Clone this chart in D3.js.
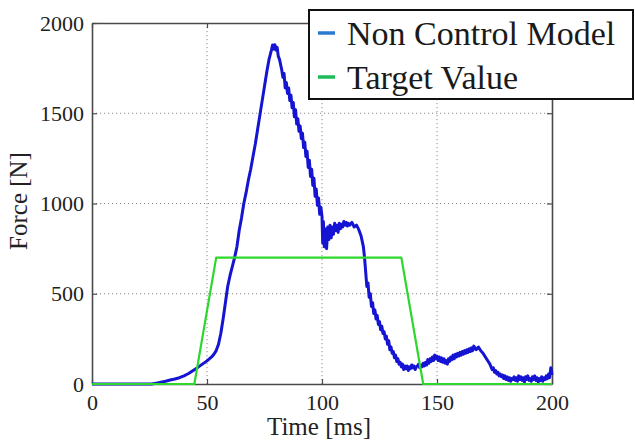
<!DOCTYPE html>
<html>
<head>
<meta charset="utf-8">
<script src="https://cdn.jsdelivr.net/npm/d3@7"></script>
<style>
  html, body { margin: 0; padding: 0; background: #fff; }
  svg { display: block; }
  svg text { font-family: 'Liberation Serif', 'Times New Roman', serif !important; }
</style>
</head>
<body>
<svg id="chart" width="635" height="443"></svg>
<script>
// ---- data ----
const xTicks = [0, 50, 100, 150, 200];
const yTicks = [0, 500, 1000, 1500, 2000];
const seriesNames = ["Non Control Model", "Target Value"];

// Non Control Model: time [ms]
const modelTime = [0, 26, 28, 30, 32, 34, 36, 38, 40, 42, 44, 46, 48, 50, 52, 53, 54, 55, 56, 57, 58, 59, 60, 61, 62, 63, 64, 65, 66, 67, 68, 69, 70, 71, 72, 73, 74, 75, 76, 77, 78, 78.5, 79, 79.5, 80, 80.5, 81, 81.5, 82, 82.5, 83, 83.5, 84, 84.5, 85, 85.5, 86, 86.5, 87, 87.5, 88, 88.5, 89, 89.5, 90, 90.5, 91, 91.5, 92, 92.5, 93, 93.5, 94, 94.5, 95, 95.5, 96, 96.5, 97, 97.5, 98, 98.5, 99, 99.5, 100, 100.3, 100.6, 101, 101.3, 101.6, 102, 102.5, 103, 103.5, 104, 104.5, 105, 105.5, 106, 106.5, 107, 107.5, 108, 108.5, 109, 109.5, 110, 110.5, 111, 111.5, 112, 113, 114, 115, 116, 117, 118, 118.5, 119, 119.5, 120, 120.5, 121, 121.5, 122, 122.5, 123, 123.5, 124, 124.5, 125, 125.5, 126, 126.5, 127, 127.5, 128, 128.5, 129, 129.5, 130, 130.5, 131, 131.5, 132, 132.5, 133, 133.5, 134, 134.5, 135, 135.5, 136, 136.5, 137, 137.5, 138, 138.5, 139, 139.5, 140, 140.5, 141, 141.5, 142, 142.5, 143, 143.5, 144, 144.5, 145, 145.5, 146, 146.5, 147, 147.5, 148, 148.5, 149, 149.5, 150, 150.5, 151, 151.5, 152, 152.5, 153, 153.5, 154, 154.5, 155, 155.5, 156, 156.5, 157, 157.5, 158, 158.5, 159, 159.5, 160, 160.5, 161, 161.5, 162, 162.5, 163, 163.5, 164, 164.5, 165, 165.5, 166, 167, 168, 169, 170, 171, 172, 173, 173.5, 174, 174.5, 175, 175.5, 176, 176.5, 177, 177.5, 178, 178.5, 179, 179.5, 180, 180.5, 181, 181.5, 182, 182.5, 183, 183.5, 184, 184.5, 185, 185.5, 186, 186.5, 187, 187.5, 188, 188.5, 189, 189.5, 190, 190.5, 191, 191.5, 192, 192.5, 193, 193.5, 194, 194.5, 195, 195.5, 196, 196.5, 197, 197.5, 198, 198.5, 199, 199.5, 200];
// Non Control Model: force [N]
const modelForce = [0, 0, 5, 10, 15, 22, 28, 35, 45, 58, 75, 92, 110, 128, 150, 165, 185, 220, 280, 360, 450, 540, 600, 650, 700, 760, 850, 920, 1000, 1060, 1130, 1190, 1260, 1330, 1410, 1490, 1570, 1650, 1730, 1800, 1850, 1878, 1855, 1880, 1850, 1865, 1815, 1800, 1770, 1740, 1700, 1720, 1640, 1670, 1610, 1640, 1570, 1600, 1530, 1560, 1480, 1520, 1440, 1470, 1400, 1430, 1360, 1390, 1310, 1340, 1260, 1290, 1200, 1240, 1150, 1190, 1100, 1140, 1040, 1080, 990, 1030, 940, 980, 930, 780, 900, 760, 860, 820, 750, 870, 800, 880, 810, 870, 830, 890, 850, 880, 840, 890, 860, 885, 870, 900, 880, 895, 875, 890, 880, 895, 870, 880, 855, 820, 760, 700, 620, 540, 560, 480, 500, 430, 450, 390, 410, 360, 380, 330, 345, 300, 320, 280, 290, 250, 265, 220, 240, 190, 205, 170, 180, 145, 160, 125, 140, 110, 120, 95, 110, 80, 100, 85, 100, 75, 95, 85, 105, 90, 100, 80, 95, 100, 110, 90, 105, 95, 115, 100, 120, 105, 135, 115, 140, 125, 150, 130, 160, 140, 155, 130, 150, 125, 145, 120, 140, 115, 130, 110, 140, 125, 150, 135, 160, 140, 165, 150, 170, 155, 175, 160, 180, 165, 185, 170, 190, 175, 195, 180, 200, 185, 210, 190, 205, 185, 170, 150, 130, 110, 95, 80, 90, 65, 75, 55, 65, 45, 55, 40, 50, 30, 45, 25, 40, 20, 35, 15, 30, 25, 40, 20, 35, 15, 45, 25, 40, 20, 35, 10, 40, 25, 45, 20, 30, 15, 40, 25, 45, 20, 35, 10, 30, 20, 40, 15, 35, 25, 45, 30, 55, 35, 90, 50, 75];

// Target Value
const targetTime = [0, 44.5, 54, 134.5, 144, 200];
const targetForce = [0, 0, 700, 700, 0, 0];

// ---- layout ----
const W = 635, H = 443;
const margin = { left: 92, top: 23, right: 635 - 552, bottom: 443 - 384 };
const pw = W - margin.left - margin.right;
const ph = H - margin.top - margin.bottom;
const font = "'Liberation Serif', 'Times New Roman', serif";
const frameColor = "#4a4a4a";

const svg = d3.select("#chart");
const g = svg.append("g").attr("transform", `translate(${margin.left},${margin.top})`);

const x = d3.scaleLinear().domain([0, 200]).range([0, pw]);
const y = d3.scaleLinear().domain([0, 2000]).range([ph, 0]);

// grid
g.append("g").selectAll("line.gx").data(xTicks.filter(d => d > 0 && d < 200)).join("line")
  .attr("x1", d => x(d)).attr("x2", d => x(d)).attr("y1", 0).attr("y2", ph)
  .attr("stroke", "#8a8a8a").attr("stroke-width", 1).attr("stroke-dasharray", "1.2,2.8");
g.append("g").selectAll("line.gy").data(yTicks.filter(d => d > 0 && d < 2000)).join("line")
  .attr("x1", 0).attr("x2", pw).attr("y1", d => y(d)).attr("y2", d => y(d))
  .attr("stroke", "#8a8a8a").attr("stroke-width", 1).attr("stroke-dasharray", "1.2,2.8");

// axes (ticks inside)
function styleAxis(sel) {
  sel.attr("font-family", font);
  sel.select(".domain").attr("stroke", frameColor).attr("stroke-width", 1.6);
  sel.selectAll(".tick line").attr("stroke", frameColor).attr("stroke-width", 1.2);
  sel.selectAll("text").style("font-family", font).attr("font-size", 22).attr("fill", "#222");
}
const xAxis = g.append("g").attr("transform", `translate(0,${ph})`)
  .call(d3.axisBottom(x).tickValues(xTicks).tickSize(-5).tickSizeOuter(0).tickPadding(10).tickFormat(d3.format("d")));
styleAxis(xAxis);
const xAxisTop = g.append("g")
  .call(d3.axisTop(x).tickValues(xTicks).tickSize(-5).tickSizeOuter(0).tickFormat(""));
styleAxis(xAxisTop);
const yAxis = g.append("g")
  .call(d3.axisLeft(y).tickValues(yTicks).tickSize(-5).tickSizeOuter(0).tickPadding(8).tickFormat(d3.format("d")));
styleAxis(yAxis);
const yAxisRight = g.append("g").attr("transform", `translate(${pw},0)`)
  .call(d3.axisRight(y).tickValues(yTicks).tickSize(-5).tickSizeOuter(0).tickFormat(""));
styleAxis(yAxisRight);
xAxis.selectAll("text").attr("dy", "0.72em");

// lines
const modelData = modelTime.map((t, i) => [t, modelForce[i]]);
const targetData = targetTime.map((t, i) => [t, targetForce[i]]);
const line = d3.line().x(d => x(d[0])).y(d => y(d[1]));

g.append("path").datum(modelData).attr("d", line)
  .attr("fill", "none").attr("stroke", "#1414d2").attr("stroke-width", 3).attr("stroke-linejoin", "round");
g.append("path").datum(targetData).attr("d", line)
  .attr("fill", "none").attr("stroke", "#2cd82c").attr("stroke-width", 2.2).attr("stroke-linejoin", "round");

// axis labels
svg.append("text").attr("x", 319).attr("y", 435).attr("text-anchor", "middle")
  .style("font-family", font).attr("font-size", 25).attr("fill", "#222").text("Time [ms]");
svg.append("text").attr("transform", "translate(27,201) rotate(-90)").attr("text-anchor", "middle")
  .style("font-family", font).attr("font-size", 25).attr("fill", "#222").text("Force [N]");

// legend
const lg = svg.append("g");
lg.append("rect").attr("x", 309).attr("y", 10).attr("width", 324).attr("height", 89)
  .attr("fill", "#fff").attr("stroke", "#111").attr("stroke-width", 2);
const legendColors = ["#2a7ad0", "#1fbb5a"];
seriesNames.forEach((name, i) => {
  const yy = 33 + i * 44;
  lg.append("line").attr("x1", 318).attr("x2", 335).attr("y1", yy).attr("y2", yy)
    .attr("stroke", legendColors[i]).attr("stroke-width", 3.5);
  lg.append("text").attr("x", 347).attr("y", yy + 12).style("font-family", font)
    .attr("font-size", 34).attr("fill", "#1a1a1a").text(name);
});
</script>
</body>
</html>
